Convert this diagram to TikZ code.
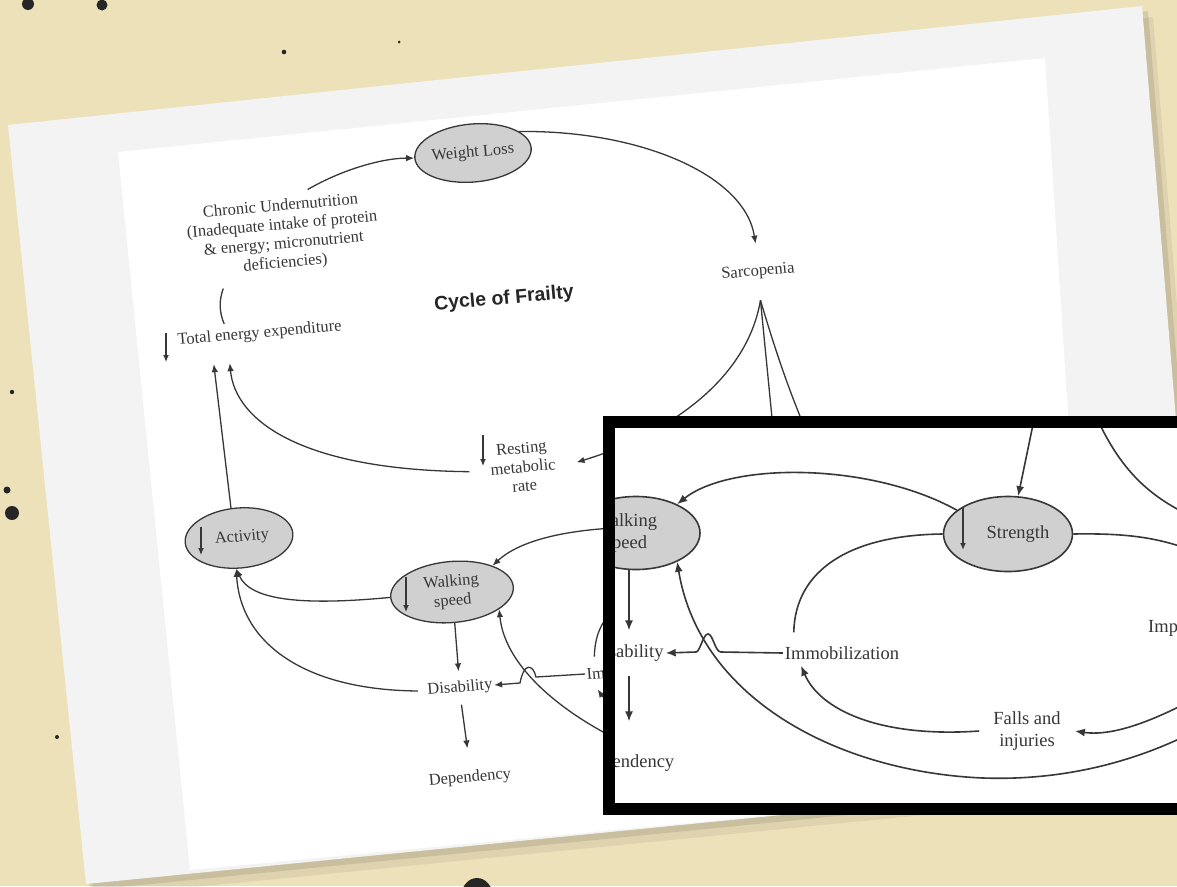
\documentclass[tikz,border=0pt]{standalone}
\usepackage{fontspec}
\setmainfont{Liberation Serif}
\newfontfamily\titlesans{Liberation Sans}
\usetikzlibrary{arrows.meta,shapes.geometric}
\definecolor{bgbeige}{RGB}{236,225,185}
\definecolor{ink}{RGB}{55,55,55}
\definecolor{ellgray}{RGB}{208,208,208}
\definecolor{papermargin}{RGB}{243,243,243}
\tikzset{
 conn/.style={draw=ink, line width=1.3pt},
 arr/.style={conn, -{Latex[length=8pt,width=6.5pt]}},
 symarr/.style={draw=ink, line width=1.2pt, -{Latex[length=7pt,width=6pt]}},
 olbl/.style={text=ink, font=\fontsize{16.5}{19}\selectfont, rotate=5, align=center, inner sep=1.5pt},
 oell/.style={olbl, ellipse, draw=ink, fill=ellgray, line width=1.3pt, inner sep=0pt},
 iconn/.style={draw=ink, line width=1.6pt},
 iarr/.style={iconn, -{Latex[length=10pt,width=8pt]}},
 ilbl/.style={text=ink, font=\fontsize{18.5}{22}\selectfont, align=center, inner sep=2pt},
 iell/.style={ilbl, ellipse, draw=ink, fill=ellgray, line width=1.6pt, inner sep=0pt},
 spot/.style={fill=black!85},
}
\begin{document}
\begin{tikzpicture}[x=1pt,y=-1pt]
\useasboundingbox (0,0) rectangle (1177,886);
\clip (0,0) rectangle (1177,886);
% background
\fill[bgbeige] (0,0) rectangle (1177,886);
\fill[spot] (28,4) circle[radius=6pt];
\fill[spot] (102,5) circle[radius=5.5pt];
\fill[spot] (284,52) circle[radius=2.3pt];
\fill[spot] (399,42) circle[radius=1.5pt];
\fill[spot] (12,392) circle[radius=2.2pt];
\fill[spot] (7,490) circle[radius=3.5pt];
\fill[spot] (12,513) circle[radius=7pt];
\fill[spot] (57,737) circle[radius=2pt];
\fill[spot] (477,897) ellipse[x radius=16pt, y radius=19pt];
% paper with shadow
\fill[black,opacity=0.06] (15,136) -- (1153,17) -- (1217,786) -- (94,897) -- cycle;
\fill[black,opacity=0.09] (11,130) -- (1148,11) -- (1211,779) -- (90,890) -- cycle;
\fill[papermargin] (8,125) -- (1142,6) -- (1205,773) -- (86,884) -- cycle;
\fill[white] (118,152) -- (1045,58) -- (1092,785) -- (190,870) -- cycle;

% ---------- original diagram ----------
\node[oell, minimum width=106pt, minimum height=58pt] (wl) at (473,153) {Weight Loss};
\node[olbl] (chr) at (283,235) {Chronic Undernutrition\\(Inadequate intake of protein\\\& energy; micronutrient\\deficiencies)};
\node[olbl, anchor=west] (tee) at (176,341) {Total energy expenditure};
\node[rotate=5, text=black!85, font=\titlesans\bfseries\fontsize{19.5}{22}\selectfont] (title) at (504,299) {Cycle of Frailty};
\node[olbl, inner ysep=21pt] (sarc) at (758,272) {Sarcopenia};
\node[olbl, inner xsep=21pt] (rmr) at (523,467) {Resting\\metabolic\\rate};
\node[oell, minimum width=108pt, minimum height=60pt] (act) at (239,538) {\hspace*{6pt}Activity};
\node[oell, minimum width=123pt, minimum height=61pt] (ws) at (452,592) {Walking\\speed};
\node[olbl, inner ysep=9pt] (dis) at (460,688) {Disability};
\node[olbl, inner ysep=22pt] (dep) at (470,778) {Dependency};
\node[olbl, anchor=west] (imo) at (585,674) {Immobilization};

% decrease arrows
\draw[symarr] ([shift={(-10,-8)}]tee.west) -- ([shift={(-10,21)}]tee.west);
\draw[symarr] ([shift={(-40,-32)}]rmr.center) -- ([shift={(-40,-1)}]rmr.center);
\draw[symarr] ([shift={(-38,-11)}]act.center) -- ([shift={(-38,17)}]act.center);
\draw[symarr] ([shift={(-46,-15)}]ws.center) -- ([shift={(-46,20)}]ws.center);

% hidden ends behind the inset
\coordinate (hstr) at (782,520);
\coordinate (himp) at (900,600);
\coordinate (hstr2) at (650,527);
\coordinate (hbal) at (640,750);
\coordinate (hfal) at (640,712);
\coordinate (hstr3) at (650,600);

% connectors
\draw[arr] ([shift={(28,-8)}]chr.north) .. controls (345,168) and (385,158) .. (wl.west);
\draw[arr] (wl.20) .. controls (640,130) and (745,175) .. (sarc.north);
\draw[conn] ([shift={(-63,16)}]chr.south) .. controls (219,300) and (219,312) .. ([shift={(49,-8)}]tee.north west);
\draw[conn] (sarc.south) -- (hstr);
\draw[conn] (sarc.south) .. controls (790,400) and (820,480) .. (himp);
\draw[arr] (sarc.south) .. controls (745,390) and (650,440) .. (rmr.east);
\draw[arr] (rmr.west) .. controls (300,470) and (235,420) .. ([shift={(53,13)}]tee.south west);
\draw[arr] (act.100) -- ([shift={(37,14)}]tee.south west);
\draw[arr] (ws.west) .. controls (300,606) and (250,600) .. (act.-100);
\draw[arr] ([shift={(-8,0)}]dis.west) .. controls (300,690) and (240,640) .. (act.-100);
\draw[arr] (ws.south) -- (dis.north);
\draw[arr] (dis.south) -- (dep.north);
\draw[arr] (hstr2) .. controls (570,527) and (520,540) .. (ws.28);
\draw[arr] (hbal) .. controls (570,720) and (505,670) .. (ws.-25);
\draw[arr] (imo.west) -- (536,677) .. controls (533,664) and (524,662) .. (520,683) -- (dis.east);
\draw[arr] (hfal) .. controls (620,708) and (605,700) .. ([shift={(12,8)}]imo.south west);
\draw[conn] (hstr3) .. controls (610,602) and (595,625) .. ([shift={(10,-10)}]imo.north west);

% ---------- inset ----------
\fill[white] (603,416) rectangle (1200,815);
\begin{scope}
\clip (615,428) rectangle (1200,803);
\node[iell, minimum width=128pt, minimum height=73pt] (iws) at (636,533) {Walking\hspace*{20pt}\\speed\hspace*{20pt}};
\node[iell, minimum width=129pt, minimum height=75pt] (istr) at (1008,534) {\hspace*{20pt}Strength};
\draw[symarr, line width=1.5pt] ([shift={(-45,-27)}]istr.center) -- ([shift={(-45,16)}]istr.center);
\node[ilbl] (iimo) at (842,653) {Immobilization};
\node[ilbl, inner ysep=14pt] (idis) at (627,653) {Disability};
\node[ilbl, inner ysep=33pt] (idep) at (628,763) {Dependency};
\node[ilbl, inner xsep=14pt] (ifal) at (1027,731) {Falls and\\injuries};
\node[ilbl, anchor=west] (iimp) at (1146,628) {Impaired balance};
\coordinate (itop1) at (1036,410);
\coordinate (itop2) at (1095,414);
\coordinate (iright1) at (1205,522);
\coordinate (iright2) at (1205,556);
\coordinate (iright3) at (1205,693);
\coordinate (iright4) at (1205,726);
\draw[iarr] (itop1) -- (istr.75);
\draw[iconn] (itop2) .. controls (1120,470) and (1150,500) .. (iright1);
\draw[iarr] (istr.155) .. controls (870,462) and (730,462) .. (iws.35);
\draw[iconn] (istr.west) .. controls (850,535) and (795,570) .. ([shift={(11,-12)}]iimo.north west);
\draw[iconn] (istr.east) .. controls (1130,533) and (1165,538) .. (iright2);
\draw[iarr] (iimo.west) -- (721,652) .. controls (715,652) and (713,634) .. (708,634) .. controls (703,634) and (700,652) .. (696,652) -- (idis.east);
\draw[iarr] ([shift={(-7,0)}]iws.south) -- ([shift={(2,0)}]idis.north);
\draw[iarr] ([shift={(2,0)}]idis.south) -- ([shift={(1,0)}]idep.north);
\draw[iarr] (iright3) .. controls (1160,718) and (1115,737) .. (ifal.east);
\draw[iarr] (ifal.west) .. controls (880,738) and (820,710) .. ([shift={(-41,4)}]iimo.south);
\draw[iarr] (iright4) .. controls (1120,772) and (1040,780) .. (983,778) .. controls (840,772) and (700,700) .. (iws.-35);
\end{scope}
\draw[black, line width=12pt] (609,422) rectangle (1220,809);
\end{tikzpicture}
\end{document}
